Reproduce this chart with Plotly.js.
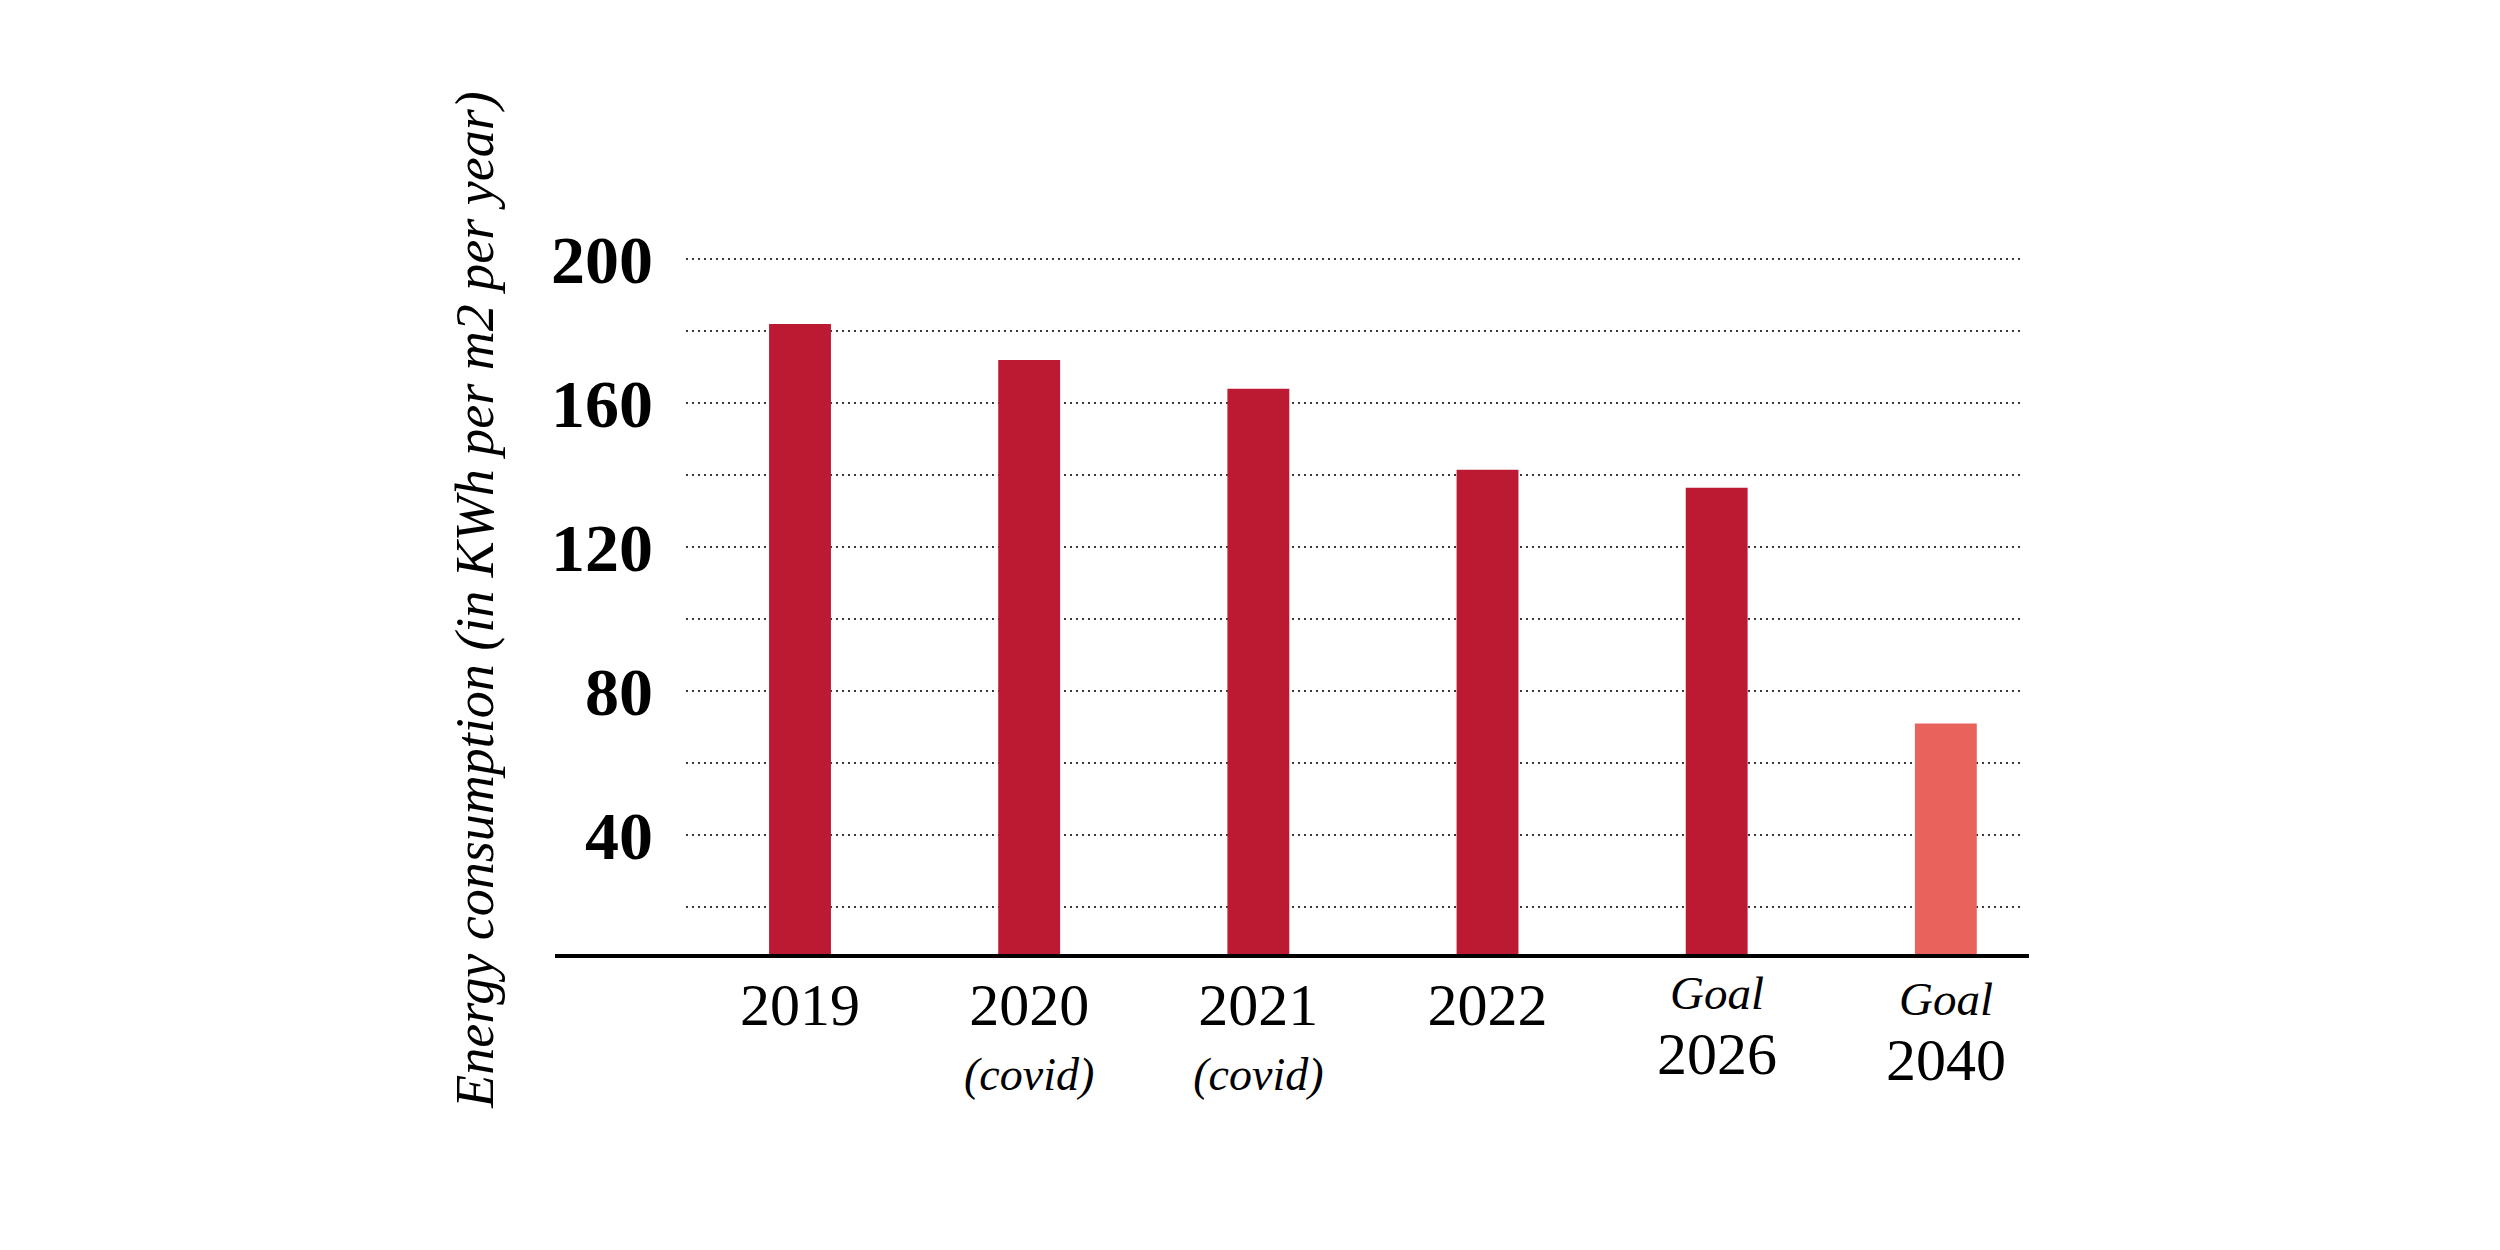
<!DOCTYPE html>
<html>
<head>
<meta charset="utf-8">
<script src="https://cdn.plot.ly/plotly-3.0.1.min.js"></script>
<style>
  html, body { margin: 0; padding: 0; background: #ffffff; }
  #chart { width: 2500px; height: 1250px; }
</style>
</head>
<body>
<div id="chart"></div>
<script>
// ---- data ----
const categories = ['2019', '2020', '2021', '2022', '2026', '2040'];
const values = [182, 172, 164, 141.5, 136.5, 71];
const yearLabels = ['2019', '2020', '2021', '2022', '2026', '2040'];
const subLabels = ['', '(covid)', '(covid)', '', '', ''];
const goalFlags = [false, false, false, false, true, true];
const goalWord = 'Goal';
const barColors = ['#BC1A32', '#BC1A32', '#BC1A32', '#BC1A32', '#BC1A32', '#E8635B'];
const yTitle = 'Energy consumption (in KWh per m2 per year)';

const SERIF = '"Liberation Serif", "DejaVu Serif", serif';

// tick labels for actual years (year + optional italic note); goal labels are annotations
const tickText = categories.map((c, i) => {
  if (goalFlags[i]) return ' ';
  let t = "<span style='font-size:60px'>" + yearLabels[i] + "</span>";
  if (subLabels[i]) t += "<br><i><span style='font-size:46px'>" + subLabels[i] + "</span></i>";
  return t;
});

const goalYOffset = [0, 0, 0, 0, -0.100, -0.108];
const goalAnnotations = [];
categories.forEach((c, i) => {
  if (!goalFlags[i]) return;
  goalAnnotations.push({
    x: i,
    xref: 'x',
    yref: 'paper',
    y: goalYOffset[i],
    xanchor: 'center',
    yanchor: 'middle',
    showarrow: false,
    visible: true,
    text: "<i><span style='font-size:47px'>" + goalWord + "</span></i><br><span style='font-size:60px'>" + yearLabels[i] + "</span>",
    font: { family: SERIF, size: 50, color: '#000000' }
  });
});

const trace = {
  type: 'bar',
  x: categories,
  y: values,
  width: 0.27,
  marker: { color: barColors, line: { width: 0 } },
  hoverinfo: 'skip'
};

const gridStyle = { gridcolor: '#3a3a3a', gridwidth: 1.5, griddash: '2px,4px' };

const layout = {
  width: 2500,
  height: 1250,
  paper_bgcolor: '#ffffff',
  plot_bgcolor: '#ffffff',
  showlegend: false,
  margin: { l: 686, r: 476, t: 243, b: 294, pad: 0 },
  xaxis: {
    type: 'category',
    range: [-0.4975, 5.341],
    tickmode: 'array',
    tickvals: categories,
    ticktext: tickText,
    showgrid: false,
    zeroline: false,
    showline: false,
    ticks: '',
    ticklabelstandoff: 18,
    tickfont: { family: SERIF, size: 50, color: '#000000' },
    fixedrange: true
  },
  yaxis: {
    range: [6.4, 204.5],
    tick0: 0,
    dtick: 40,
    showgrid: true,
    gridcolor: gridStyle.gridcolor,
    gridwidth: gridStyle.gridwidth,
    griddash: gridStyle.griddash,
    minor: {
      tick0: 0,
      dtick: 20,
      showgrid: true,
      gridcolor: gridStyle.gridcolor,
      gridwidth: gridStyle.gridwidth,
      griddash: gridStyle.griddash
    },
    zeroline: false,
    showline: false,
    ticks: '',
    ticklabelstandoff: 32,
    tickfont: { family: SERIF, size: 68, color: '#000000', weight: 'bold' },
    title: {
      text: '<i>' + yTitle + '</i>',
      font: { family: SERIF, size: 54, color: '#000000' },
      standoff: 40
    },
    fixedrange: true
  },
  annotations: goalAnnotations,
  shapes: [
    {
      type: 'line',
      xref: 'paper', yref: 'paper',
      x0: -0.0979, x1: 1.0037, y0: 0, y1: 0,
      line: { color: '#000000', width: 4 },
      layer: 'above'
    }
  ]
};

Plotly.newPlot('chart', [trace], layout, { staticPlot: true, displayModeBar: false });
</script>
</body>
</html>
